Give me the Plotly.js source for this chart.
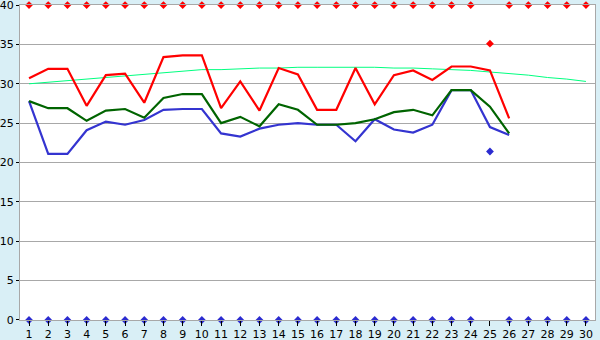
<!DOCTYPE html>
<html>
<head>
<meta charset="utf-8">
<script src="https://cdn.plot.ly/plotly-3.0.1.min.js"></script>
<style>html,body{margin:0;padding:0;background:#d9eff6;}#chart{width:600px;height:340px;}</style>
</head>
<body>
<div id="chart"></div>
<script>
const days = Array.from({length: 30}, (_, i) => i + 1);
const maxLine = [30.7, 31.9, 31.9, 27.2, 31.1, 31.3, 27.6, 33.4, 33.6, 33.6, 26.9, 30.3, 26.6, 32.0, 31.2, 26.7, 26.7, 32.0, 27.4, 31.1, 31.7, 30.5, 32.2, 32.2, 31.7, 25.6];
const avgLine = [27.8, 26.9, 26.9, 25.3, 26.6, 26.8, 25.7, 28.2, 28.7, 28.7, 25.0, 25.8, 24.6, 27.4, 26.7, 24.8, 24.8, 25.0, 25.5, 26.4, 26.7, 26.0, 29.2, 29.2, 27.1, 23.7];
const minLine = [27.8, 21.1, 21.1, 24.1, 25.2, 24.8, 25.4, 26.7, 26.8, 26.8, 23.7, 23.3, 24.3, 24.8, 25.0, 24.8, 24.8, 22.7, 25.5, 24.2, 23.8, 24.8, 29.2, 29.2, 24.5, 23.5];
const trendLine = [30.0, 30.2, 30.4, 30.6, 30.8, 31.0, 31.2, 31.4, 31.6, 31.8, 31.8, 31.9, 32.0, 32.0, 32.1, 32.1, 32.1, 32.1, 32.1, 32.0, 32.0, 31.9, 31.8, 31.7, 31.5, 31.3, 31.1, 30.8, 30.6, 30.3];
const highDots = [40, 40, 40, 40, 40, 40, 40, 40, 40, 40, 40, 40, 40, 40, 40, 40, 40, 40, 40, 40, 40, 40, 40, 40, 35.1, 40, 40, 40, 40, 40];
const lowDots = [0, 0, 0, 0, 0, 0, 0, 0, 0, 0, 0, 0, 0, 0, 0, 0, 0, 0, 0, 0, 0, 0, 0, 0, 21.4, 0, 0, 0, 0, 0];
const yTicks = [0, 5, 10, 15, 20, 25, 30, 35, 40];

const lineDays = days.slice(0, maxLine.length);
const traces = [
  {x: days, y: trendLine, mode: 'lines', line: {color: '#00ff80', width: 1}, hoverinfo: 'skip'},
  {x: lineDays, y: minLine, mode: 'lines', line: {color: '#3434d0', width: 2.2}},
  {x: lineDays, y: avgLine, mode: 'lines', line: {color: '#006400', width: 2.2}},
  {x: lineDays, y: maxLine, mode: 'lines', line: {color: '#ff0000', width: 2.2}},
  {x: days, y: highDots, mode: 'markers', marker: {color: '#ff0000', size: 6, symbol: 'diamond'}, cliponaxis: false},
  {x: days, y: lowDots, mode: 'markers', marker: {color: '#2b2bd0', size: 6, symbol: 'diamond'}, cliponaxis: false}
];

const layout = {
  width: 600, height: 340,
  margin: {l: 20, r: 5, t: 5, b: 20, pad: 0},
  paper_bgcolor: '#d9eff6',
  plot_bgcolor: '#ffffff',
  showlegend: false,
  font: {family: 'DejaVu Sans', size: 11, color: '#000'},
  xaxis: {
    range: [0.53, 30.47], tickvals: days, ticktext: days.map(String),
    showgrid: false, zeroline: false,
    showline: true, mirror: true, linecolor: '#a8a8a8', linewidth: 1,
    ticks: 'outside', ticklen: 5, tickcolor: '#000', tickwidth: 1,
    ticklabelstandoff: -1,
    tickfont: {family: 'DejaVu Sans', size: 11, color: '#000'}, fixedrange: true
  },
  yaxis: {
    range: [-0.001, 40.01], tickvals: yTicks, ticktext: yTicks.map(String),
    showgrid: true, gridcolor: '#a8a8a8', gridwidth: 1, zeroline: false,
    showline: true, mirror: true, linecolor: '#a8a8a8', linewidth: 1,
    ticks: 'outside', ticklen: 3, tickcolor: '#000',
    ticklabeloverflow: 'allow',
    tickfont: {family: 'DejaVu Sans', size: 11, color: '#000'}, fixedrange: true
  }
};
Plotly.newPlot('chart', traces, layout, {displayModeBar: false, staticPlot: true});
</script>
</body>
</html>
